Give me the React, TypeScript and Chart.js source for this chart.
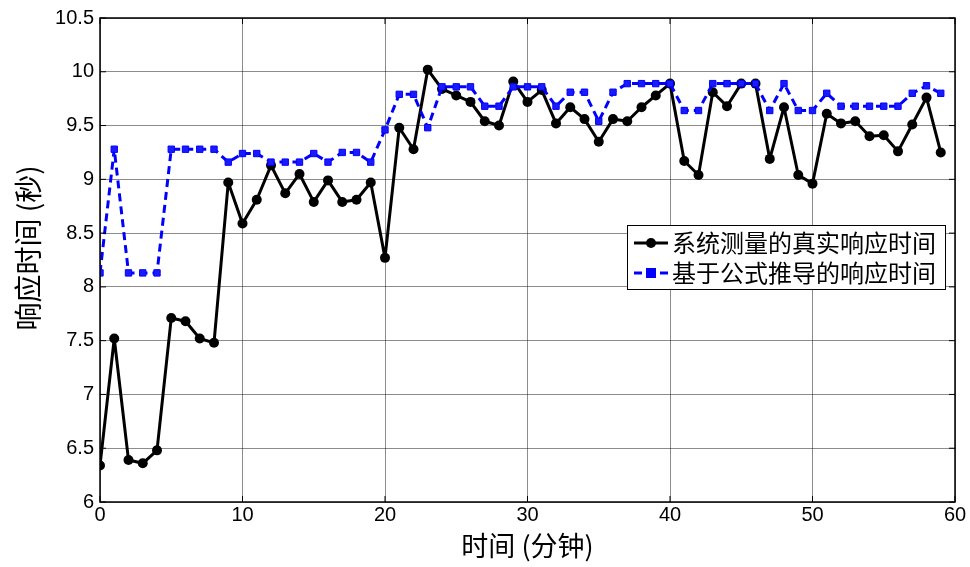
import React, { useEffect, useRef } from "react";
import { Chart, registerables } from "chart.js";

Chart.register(...registerables);

const minutes: number[] = Array.from({ length: 60 }, (_, i) => i);

const measured: number[] = [
  6.34, 7.52, 6.39, 6.36, 6.48, 7.71, 7.68, 7.52, 7.48, 8.97,
  8.59, 8.81, 9.13, 8.87, 9.05, 8.79, 8.99, 8.79, 8.81, 8.97,
  8.27, 9.48, 9.28, 10.02, 9.84, 9.78, 9.72, 9.54, 9.50, 9.91,
  9.72, 9.83, 9.52, 9.67, 9.56, 9.35, 9.56, 9.54, 9.67, 9.78,
  9.89, 9.17, 9.04, 9.81, 9.68, 9.89, 9.89, 9.19, 9.67, 9.04,
  8.96, 9.61, 9.52, 9.54, 9.40, 9.41, 9.26, 9.51, 9.76, 9.25,
];

const derived: number[] = [
  8.13, 9.28, 8.13, 8.13, 8.13, 9.28, 9.28, 9.28, 9.28, 9.16,
  9.24, 9.24, 9.16, 9.16, 9.16, 9.24, 9.16, 9.25, 9.25, 9.16,
  9.46, 9.79, 9.79, 9.48, 9.86, 9.86, 9.86, 9.68, 9.68, 9.86,
  9.86, 9.86, 9.68, 9.81, 9.81, 9.54, 9.81, 9.89, 9.89, 9.89,
  9.89, 9.64, 9.64, 9.89, 9.89, 9.89, 9.89, 9.64, 9.89, 9.64,
  9.64, 9.80, 9.68, 9.68, 9.68, 9.68, 9.68, 9.80, 9.87, 9.80,
];

const seriesNames: string[] = ["系统测量的真实响应时间", "基于公式推导的响应时间"];
const xTitle = "时间 (分钟)";
const yTitle = "响应时间 (秒)";

const CJK = "'Noto Sans CJK SC', sans-serif";
const LATIN = "'Liberation Sans', Arial, sans-serif";

const decorPlugin = {
  id: "decor",
  afterDraw(chart: any) {
    const { ctx, chartArea } = chart;
    const { left, right, top, bottom } = chartArea;
    const xs = chart.scales.x;
    const ys = chart.scales.y;
    ctx.save();
    ctx.strokeStyle = "#000";
    ctx.lineWidth = 1.5;
    ctx.strokeRect(left, top, right - left, bottom - top);
    ctx.lineWidth = 1;
    const tl = 6;
    ctx.beginPath();
    xs.ticks.forEach((t: any) => {
      const px = xs.getPixelForValue(t.value);
      ctx.moveTo(px, bottom);
      ctx.lineTo(px, bottom - tl);
      ctx.moveTo(px, top);
      ctx.lineTo(px, top + tl);
    });
    ys.ticks.forEach((t: any) => {
      const py = ys.getPixelForValue(t.value);
      ctx.moveTo(left, py);
      ctx.lineTo(left + tl, py);
      ctx.moveTo(right, py);
      ctx.lineTo(right - tl, py);
    });
    ctx.stroke();

    ctx.fillStyle = "#000";
    ctx.font = `27px ${CJK}`;
    ctx.textAlign = "center";
    ctx.textBaseline = "middle";
    ctx.fillText(xTitle, (left + right) / 2, 546);
    ctx.save();
    ctx.translate(28, 248);
    ctx.rotate(-Math.PI / 2);
    ctx.font = `28px ${CJK}`;
    ctx.fillText(yTitle, 0, 0);
    ctx.restore();

    const bx = 627, by = 225, bw = 318, bh = 64;
    ctx.fillStyle = "#fff";
    ctx.fillRect(bx, by, bw, bh);
    ctx.strokeStyle = "#000";
    ctx.lineWidth = 1;
    ctx.strokeRect(bx + 0.5, by + 0.5, bw, bh);
    const rows = [243, 273];
    ctx.strokeStyle = "#000";
    ctx.lineWidth = 3;
    ctx.setLineDash([]);
    ctx.beginPath();
    ctx.moveTo(634, rows[0]);
    ctx.lineTo(668, rows[0]);
    ctx.stroke();
    ctx.fillStyle = "#000";
    ctx.beginPath();
    ctx.arc(651, rows[0], 5, 0, Math.PI * 2);
    ctx.fill();
    ctx.strokeStyle = "#0000ff";
    ctx.setLineDash([8, 5]);
    ctx.beginPath();
    ctx.moveTo(634, rows[1]);
    ctx.lineTo(668, rows[1]);
    ctx.stroke();
    ctx.setLineDash([]);
    ctx.fillStyle = "#0000ff";
    ctx.fillRect(646, rows[1] - 5, 10, 10);
    ctx.fillStyle = "#000";
    ctx.font = `24px ${CJK}`;
    ctx.textAlign = "left";
    ctx.textBaseline = "middle";
    ctx.fillText(seriesNames[0], 672, rows[0]);
    ctx.fillText(seriesNames[1], 672, rows[1]);
    ctx.restore();
  },
};

export default function App() {
  const ref = useRef<HTMLCanvasElement | null>(null);
  useEffect(() => {
    if (!ref.current) return;
    const chart = new Chart(ref.current, {
      type: "line",
      data: {
        labels: minutes,
        datasets: [
          {
            label: seriesNames[1],
            data: minutes.map((m, i) => ({ x: m, y: derived[i] })),
            borderColor: "#0000ff",
            backgroundColor: "#0000ff",
            borderWidth: 3,
            borderDash: [8, 5],
            borderJoinStyle: "round",
            pointStyle: "rect",
            pointRadius: 4.5,
            pointBorderWidth: 1,
            pointBorderColor: "#0000ff",
            pointBackgroundColor: "#1a1aff",
            tension: 0,
            order: 0,
          },
          {
            label: seriesNames[0],
            data: minutes.map((m, i) => ({ x: m, y: measured[i] })),
            borderColor: "#000",
            backgroundColor: "#000",
            borderWidth: 3,
            borderJoinStyle: "round",
            pointStyle: "circle",
            pointRadius: 5,
            pointBorderWidth: 0,
            pointBackgroundColor: "#000",
            tension: 0,
            order: 1,
          },
        ],
      },
      options: {
        animation: false,
        responsive: false,
        maintainAspectRatio: false,
        layout: { padding: { top: 18, right: 15, left: 0, bottom: 0 } },
        plugins: {
          legend: { display: false },
          tooltip: { enabled: false },
          title: { display: false },
        },
        scales: {
          x: {
            type: "linear",
            min: 0,
            max: 60,
            ticks: {
              stepSize: 10,
              color: "#000",
              font: { family: LATIN, size: 20 },
              padding: 1,
              maxRotation: 0,
            },
            grid: { color: "rgba(0,0,0,0.45)", lineWidth: 1, tickLength: 0 },
            border: { display: false },
            afterFit: (s: any) => {
              s.height = 65;
            },
          },
          y: {
            type: "linear",
            min: 6,
            max: 10.5,
            ticks: {
              stepSize: 0.5,
              color: "#000",
              font: { family: LATIN, size: 20 },
              padding: 6,
              callback: (v: any) => String(Number(v)),
            },
            grid: { color: "rgba(0,0,0,0.45)", lineWidth: 1, tickLength: 0 },
            border: { display: false },
            afterFit: (s: any) => {
              s.width = 100;
            },
          },
        },
      },
      plugins: [decorPlugin],
    });
    return () => chart.destroy();
  }, []);
  return (
    <div style={{ position: "fixed", left: 0, top: 0, width: 970, height: 567, background: "#fff" }}>
      <canvas ref={ref} width={970} height={567} style={{ width: 970, height: 567 }} />
    </div>
  );
}
